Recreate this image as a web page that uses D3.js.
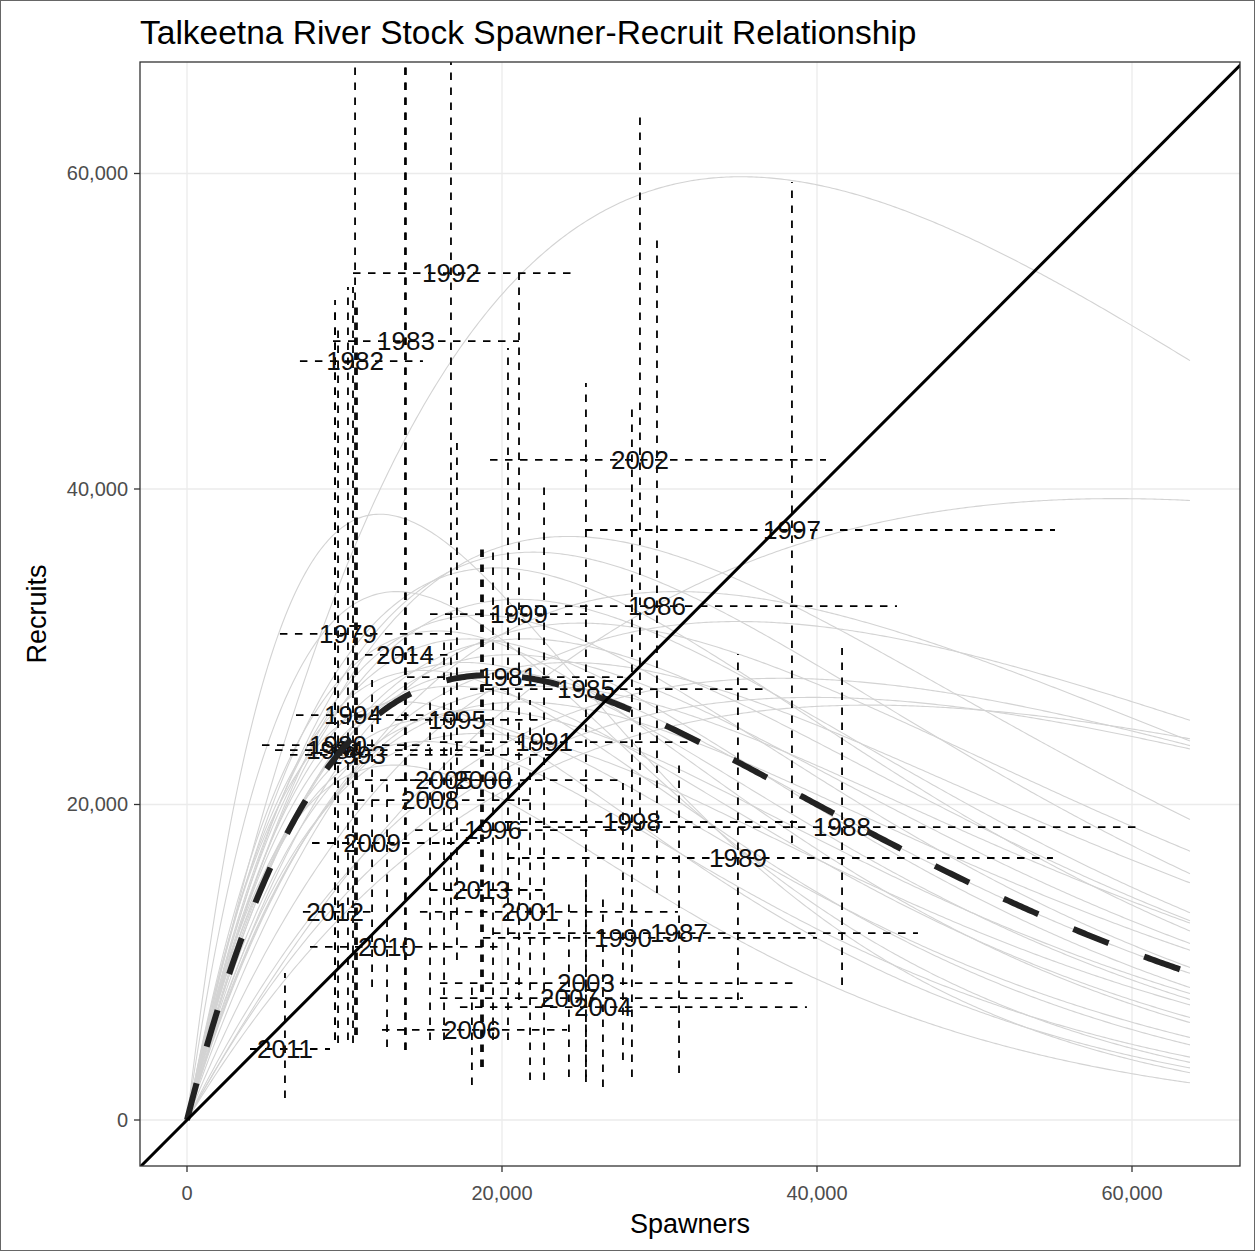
<!DOCTYPE html>
<html><head><meta charset="utf-8">
<script src="https://cdn.jsdelivr.net/npm/d3@7"></script>
<style>body{margin:0;background:#fff;} text{font-family:"Liberation Sans",Arial,sans-serif;}</style>
</head><body><svg id="c" width="1255" height="1251"></svg>
<script>
// Brood-year point estimates and interval ends (spawners S, recruits R)
const years      = [1979,1980,1981,1982,1983,1984,1985,1986,1987,1988,1989,1990,1991,1992,1993,1994,1995,1996,1997,1998,1999,2000,2001,2002,2003,2004,2005,2006,2007,2008,2009,2010,2011,2012,2013,2014];
const spawners   = [10220,9590,20380,10670,13900,9400,25330,29840,31240,41590,34980,27680,22670,16760,10790,10540,17140,19430,38410,28250,21080,18790,21780,28760,25330,26410,16320,18090,24250,15430,11750,12700,6220,9400,18670,13840];
const recruits   = [30810,23770,28080,48110,49380,23450,27320,32580,11850,18570,16610,11540,23960,53690,23140,25670,25360,18380,37400,18890,32070,21550,13190,41840,8680,7160,21550,5710,7730,20280,17560,10970,4500,13190,14580,29480];
const spawnersLo = [5900,4760,13970,7170,9270,5590,17970,21140,19430,22600,20320,18790,16060,10540,6540,6920,13210,14480,25270,20190,15430,13520,14790,19240,16060,17330,11300,12380,16060,10790,7940,7810,4000,7360,15430,11300];
const spawnersHi = [16700,15430,27680,14980,21080,19240,36890,45080,46410,60320,54980,40000,31940,24630,23680,17330,22730,25590,55110,38730,25400,27490,31170,40570,38730,39360,20510,24130,35300,21780,18600,19870,9080,12060,22730,16700];
const recruitsLo = [5070,4880,5070,5390,4440,5070,2730,14390,2980,8560,7610,3800,2540,12680,5390,4880,10140,5070,17560,2730,7610,3360,2540,18380,2410,2090,5070,2220,2730,5070,8430,4630,1390,5070,3360,4440];
const recruitsHi = [52800,50270,48940,72000,75000,51350,46720,55780,22500,29920,29540,21360,40570,75000,51980,52800,42910,36130,59460,45450,53690,36640,26620,64020,15210,14260,30430,8560,13950,26620,27890,21550,9320,51980,36450,72000];

// Ricker curves R = alpha * S * exp(-beta * S) (posterior draws, grey)
const curveAlpha = [4.621,1.816,2.454,1.650,2.932,2.020,1.830,4.154,3.429,4.456,3.244,4.268,3.867,3.322,4.857,3.904,3.393,4.684,4.039,4.634,3.773,4.482,3.608,4.426,5.293,4.311,5.148,4.343,6.836,5.216,8.521,4.640];
const curveBeta  = [2.843e-5,1.696e-5,2.857e-5,2.308e-5,3.220e-5,2.654e-5,2.513e-5,4.131e-5,4.005e-5,4.554e-5,4.115e-5,4.757e-5,4.664e-5,4.444e-5,5.105e-5,4.869e-5,4.710e-5,5.385e-5,5.214e-5,5.590e-5,5.339e-5,5.685e-5,5.417e-5,5.921e-5,6.281e-5,6.219e-5,6.645e-5,6.658e-5,7.508e-5,7.241e-5,8.163e-5,7.587e-5];
// Median Ricker curve
const medianAlpha = [3.972];
const medianBeta  = [5.181e-5];
const spawnerMax = 63680;

const xTicks = [0, 20000, 40000, 60000];
const yTicks = [0, 20000, 40000, 60000];

const W = 1255, H = 1251;
const L = 140, R = 1240, T = 62, B = 1166;
const svg = d3.select('#c');
const x = d3.scaleLinear().domain([-2984, 66857]).range([L, R]);
const y = d3.scaleLinear().domain([-2916, 67068]).range([B, T]);
const fmt = d3.format(',');

svg.append('rect').attr('x',0.5).attr('y',0.5).attr('width',W-1).attr('height',H-1).attr('fill','#fff').attr('stroke','#666').attr('stroke-width',1);

svg.append('defs').append('clipPath').attr('id','clip').append('rect')
  .attr('x',L).attr('y',T).attr('width',R-L).attr('height',B-T);

// grid
const grid = svg.append('g');
xTicks.forEach(t => grid.append('line').attr('x1',x(t)).attr('x2',x(t)).attr('y1',T).attr('y2',B).attr('stroke','#ebebeb').attr('stroke-width',1.3));
yTicks.forEach(t => grid.append('line').attr('y1',y(t)).attr('y2',y(t)).attr('x1',L).attr('x2',R).attr('stroke','#ebebeb').attr('stroke-width',1.3));

const plot = svg.append('g').attr('clip-path','url(#clip)');
const sGrid = d3.range(0, spawnerMax + 1, 160);
const line = d3.line().x(d => x(d[0])).y(d => y(d[1]));

// grey curves
curveAlpha.forEach((a, i) => {
  const b = curveBeta[i];
  plot.append('path').attr('d', line(sGrid.map(s => [s, a * s * Math.exp(-b * s)])))
    .attr('fill','none').attr('stroke','#d3d3d3').attr('stroke-width',1.1);
});

// error bars
years.forEach((yr, i) => {
  plot.append('line').attr('x1',x(spawners[i])).attr('x2',x(spawners[i]))
    .attr('y1',y(recruitsLo[i])).attr('y2',y(recruitsHi[i]))
    .attr('stroke','#000').attr('stroke-width',1.8).attr('stroke-dasharray','7.5,7.5');
  plot.append('line').attr('x1',x(spawnersLo[i])).attr('x2',x(spawnersHi[i]))
    .attr('y1',y(recruits[i])).attr('y2',y(recruits[i]))
    .attr('stroke','#000').attr('stroke-width',1.8).attr('stroke-dasharray','7.5,7.5');
});

// year labels
years.forEach((yr, i) => {
  plot.append('text').attr('x',x(spawners[i])).attr('y',y(recruits[i])).attr('dy','0.36em')
    .attr('text-anchor','middle').attr('font-size',26).attr('fill','#111').text(yr);
});

// median curve
plot.append('path').attr('d', line(sGrid.map(s => [s, medianAlpha[0] * s * Math.exp(-medianBeta[0] * s)])))
  .attr('fill','none').attr('stroke','#222').attr('stroke-width',6).attr('stroke-dasharray','38,38');

// 1:1 replacement line
plot.append('line').attr('x1',x(-5000)).attr('y1',y(-5000)).attr('x2',x(70000)).attr('y2',y(70000))
  .attr('stroke','#000').attr('stroke-width',3);

// panel border
svg.append('rect').attr('x',L).attr('y',T).attr('width',R-L).attr('height',B-T)
  .attr('fill','none').attr('stroke','#333').attr('stroke-width',1.3);

// axes
const ax = svg.append('g');
xTicks.forEach(t => {
  ax.append('line').attr('x1',x(t)).attr('x2',x(t)).attr('y1',B).attr('y2',B+6).attr('stroke','#333').attr('stroke-width',1.3);
  ax.append('text').attr('x',x(t)).attr('y',B+34).attr('text-anchor','middle').attr('font-size',20).attr('fill','#4d4d4d').text(fmt(t));
});
yTicks.forEach(t => {
  ax.append('line').attr('x1',L-6).attr('x2',L).attr('y1',y(t)).attr('y2',y(t)).attr('stroke','#333').attr('stroke-width',1.3);
  ax.append('text').attr('x',L-12).attr('y',y(t)).attr('dy','0.35em').attr('text-anchor','end').attr('font-size',20).attr('fill','#4d4d4d').text(fmt(t));
});

svg.append('text').attr('x',(L+R)/2).attr('y',1233).attr('text-anchor','middle').attr('font-size',27).attr('fill','#000').text('Spawners');
svg.append('text').attr('transform','translate(46,614) rotate(-90)').attr('text-anchor','middle').attr('font-size',27).attr('fill','#000').text('Recruits');
svg.append('text').attr('x',L).attr('y',44).attr('font-size',33.5).attr('fill','#000').text('Talkeetna River Stock Spawner-Recruit Relationship');
</script></body></html>
